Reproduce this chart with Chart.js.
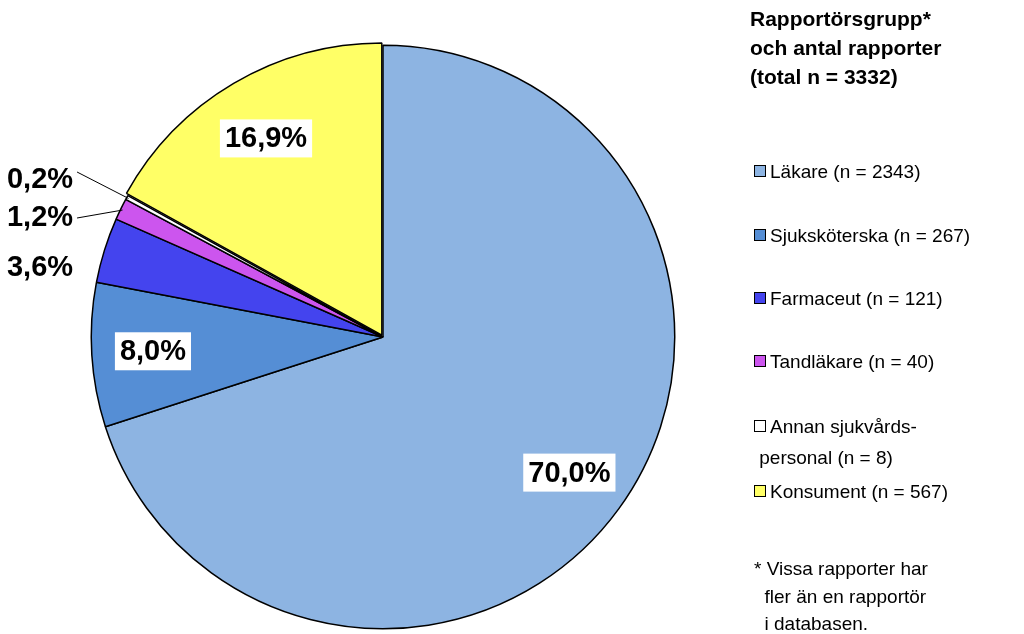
<!DOCTYPE html>
<html>
<head>
<meta charset="utf-8">
<script src="https://cdn.jsdelivr.net/npm/chart.js@4"></script>
<style>
  body { margin:0; width:1024px; height:634px; background:#fff; font-family:Arial, "Liberation Sans", sans-serif; overflow:hidden; position:relative; }
  #wrap { position:absolute; left:0; top:0; width:766px; height:634px; }
  #legend { position:absolute; left:750px; top:4px; color:#000; }
  .ttl { font-weight:bold; font-size:21px; line-height:29px; }
  .it { position:absolute; left:4px; font-size:19px; line-height:31px; white-space:nowrap; }
  .sw { display:inline-block; width:10px; height:10px; border:1.5px solid #000; margin-right:4px; vertical-align:1px; }
  .note { position:absolute; left:4px; top:551px; font-size:19px; line-height:27.5px; white-space:nowrap; }
</style>
</head>
<body>
<div id="wrap"><canvas id="pie"></canvas></div>
<div id="legend">
  <div class="ttl">Rapportörsgrupp*<br>och antal rapporter<br>(total n = 3332)</div>
</div>
<script>
// --- DADOS ---
const labels = ['Läkare', 'Sjuksköterska', 'Farmaceut', 'Tandläkare', 'Annan sjukvårds-personal', 'Konsument'];
const counts = [2343, 267, 121, 40, 8, 567];
const percents = ['70,0%', '8,0%', '3,6%', '1,2%', '0,2%', '16,9%'];
const colors = ['#8DB4E2', '#558ED5', '#4444EE', '#CC55EE', '#FFFFFF', '#FFFF66'];
const legendText = ['Läkare (n = 2343)', 'Sjuksköterska (n = 267)', 'Farmaceut (n = 121)', 'Tandläkare (n = 40)', 'Annan sjukvårds-<br>&nbsp;personal (n = 8)', 'Konsument (n = 567)'];
const offsets = [0, 0, 0, 0, 0, 9];

// legenda
const legendTop = [152, 216, 279, 342, 407, 472];
const leg = document.getElementById('legend');
legendText.forEach((t, i) => {
    const d = document.createElement('div');
    d.className = 'it';
    d.style.top = legendTop[i] + 'px';
    d.innerHTML = `<span class="sw" style="background:${colors[i]}"></span>${t}`;
    leg.appendChild(d);
});
const note = document.createElement('div');
note.className = 'note';
note.innerHTML = '* Vissa rapporter har<br>&nbsp;&nbsp;fler än en rapportör<br>&nbsp;&nbsp;i databasen.';
leg.appendChild(note);

// rótulos: dentro (caixa branca) ou fora à esquerda com linha
const pctLabels = {
    id: 'pctLabels',
    afterDraw(chart) {
        const { ctx } = chart;
        const arcs = chart.getDatasetMeta(0).data;
        ctx.save();
        ctx.font = 'bold 29px Arial, "Liberation Sans", sans-serif';
        ctx.textAlign = 'center';
        ctx.textBaseline = 'middle';
        const outsideY = { 2: 268, 3: 218, 4: 180 };
        arcs.forEach((a, i) => {
            const mid = (a.startAngle + a.endAngle) / 2;
            const txt = percents[i];
            const w = ctx.measureText(txt).width;
            let x, y;
            if (outsideY[i] !== undefined) {
                x = 40; y = outsideY[i];
                const rx = a.x + Math.cos(mid) * (a.outerRadius - 2);
                const ry = a.y + Math.sin(mid) * (a.outerRadius - 2);
                if (i !== 2) {
                    ctx.strokeStyle = '#000'; ctx.lineWidth = 1;
                    ctx.beginPath();
                    ctx.moveTo(x + w / 2 + 4, y - (i === 4 ? 8 : 0));
                    ctx.lineTo(rx, ry);
                    ctx.stroke();
                }
                ctx.fillStyle = '#000';
                ctx.fillText(txt, x, y);
            } else {
                const r = a.outerRadius * 0.79;
                x = a.x + Math.cos(mid) * r;
                y = a.y + Math.sin(mid) * r;
                ctx.fillStyle = '#fff';
                ctx.fillRect(x - w / 2 - 5, y - 19, w + 10, 38);
                ctx.fillStyle = '#000';
                ctx.fillText(txt, x, y + 1);
            }
        });
        ctx.restore();
    }
};

new Chart(document.getElementById('pie'), {
    type: 'pie',
    data: {
        labels: labels,
        datasets: [{ data: counts, backgroundColor: colors, borderColor: '#000', borderWidth: 1.5, offset: offsets }]
    },
    options: {
        responsive: true,
        maintainAspectRatio: false,
        animation: false,
        events: [],
        layout: { padding: { left: 86, right: 86, top: 40, bottom: 0 } },
        plugins: { legend: { display: false }, tooltip: { enabled: false } }
    },
    plugins: [pctLabels]
});
</script>
</body>
</html>
